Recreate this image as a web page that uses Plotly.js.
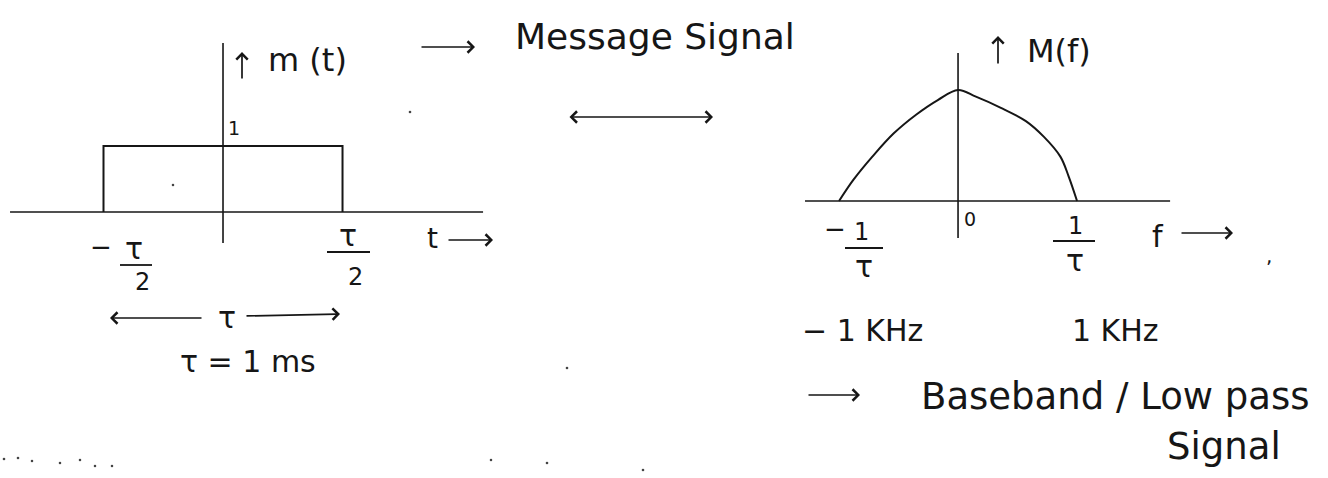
<!DOCTYPE html>
<html>
<head>
<meta charset="utf-8">
<script src="https://cdn.plot.ly/plotly-3.0.1.min.js"></script>
<style>
  html, body { margin: 0; padding: 0; background: #fff; }
  #sketch { width: 1328px; height: 478px; }
</style>
</head>
<body>
<div id="sketch"></div>
<script>
// message signal: rectangular pulse, t in units of tau
var tPulse = [-0.5, -0.5, 0.5, 0.5];
var mPulse = [0, 1, 1, 0];

// spectrum sketch, f in units of 1/tau (kHz)
var fSpec = [-1, -0.88, -0.72, -0.54, -0.35, -0.17, 0, 0.15, 0.36, 0.57, 0.72, 0.86, 0.93, 1];
var MSpec = [0, 0.19, 0.40, 0.61, 0.78, 0.91, 1, 0.94, 0.84, 0.72, 0.58, 0.40, 0.22, 0];

var W = 1328, H = 478;
var INK = '#161616';
var FONT = 'DejaVu Sans, sans-serif';

function txt(s, x, y, size, anchor) {
  return {
    text: s, xref: 'paper', yref: 'paper', x: x / W, y: 1 - y / H,
    xanchor: anchor || 'center', yanchor: 'middle', showarrow: false,
    font: {family: FONT, size: size, color: INK}
  };
}

function arr(x0, y0, x1, y1, both) {
  return {
    text: '', xref: 'paper', yref: 'paper', x: x1 / W, y: 1 - y1 / H,
    ax: x0 - x1, ay: y0 - y1, showarrow: true,
    arrowhead: 4, arrowsize: 1.3, arrowwidth: 1.7, arrowcolor: INK,
    startarrowhead: 4, startarrowsize: 1.3,
    arrowside: both ? 'end+start' : 'end', standoff: 0, startstandoff: 0
  };
}

function bar(x0, x1, y) {
  return {type: 'line', xref: 'paper', yref: 'paper',
    x0: x0 / W, x1: x1 / W, y0: 1 - y / H, y1: 1 - y / H,
    line: {color: INK, width: 1.8}};
}

function speck(x, y) {
  return {type: 'circle', xref: 'paper', yref: 'paper',
    x0: (x - 1.3) / W, x1: (x + 1.3) / W, y0: 1 - (y + 1.3) / H, y1: 1 - (y - 1.3) / H,
    fillcolor: '#444', line: {width: 0}};
}

var traces = [
  {x: tPulse, y: mPulse, xaxis: 'x', yaxis: 'y', type: 'scatter', mode: 'lines',
   line: {color: INK, width: 2}, hoverinfo: 'skip'},
  {x: fSpec, y: MSpec, xaxis: 'x2', yaxis: 'y2', type: 'scatter', mode: 'lines',
   line: {color: INK, width: 2, shape: 'spline', smoothing: 1}, hoverinfo: 'skip'}
];

var shapes = [
  // left axes
  {type: 'line', xref: 'x', yref: 'y', x0: -0.891, x1: 1.088, y0: 0, y1: 0, line: {color: INK, width: 1.6}},
  {type: 'line', xref: 'x', yref: 'y', x0: 0, x1: 0, y0: -0.47, y1: 2.56, line: {color: INK, width: 1.6}},
  // right axes
  {type: 'line', xref: 'x2', yref: 'y2', x0: -1.286, x1: 1.782, y0: 0, y1: 0, line: {color: INK, width: 1.6}},
  {type: 'line', xref: 'x2', yref: 'y2', x0: 0, x1: 0, y0: -0.333, y1: 1.333, line: {color: INK, width: 1.6}},
  // fraction bars
  bar(120, 152, 265), bar(327, 370, 252),
  bar(845, 883, 248), bar(1053, 1095, 241)
];

[[4, 459], [18, 458], [32, 461], [60, 463], [80, 460], [95, 466], [112, 466],
 [410, 112], [173, 185], [491, 460], [547, 463], [643, 470], [567, 368]].forEach(function (p) {
  shapes.push(speck(p[0], p[1]));
});

var annotations = [
  arr(420, 47, 475, 47),
  txt('Message Signal', 513, 37, 36, 'left'),
  arr(568, 117, 713, 117, true),
  // left panel labels
  arr(242, 80, 242, 52),
  txt('m (t)', 266, 60, 32, 'left'),
  txt('1', 234, 128, 19),
  txt('\u2212', 101, 247, 26),
  txt('\u03c4', 134, 248, 30),
  txt('2', 142, 282, 24),
  txt('\u03c4', 348, 235, 30),
  txt('2', 355, 277, 24),
  txt('t', 432, 238, 28),
  arr(447, 240, 493, 240),
  arr(203, 318, 110, 318),
  txt('\u03c4', 227, 317, 30),
  arr(245, 316, 340, 314),
  txt('\u03c4 = 1 ms', 248, 361, 30),
  // right panel labels
  arr(998, 65, 998, 36),
  txt('M(f)', 1025, 51, 32, 'left'),
  txt('0', 970, 219, 19),
  txt('\u2212', 835, 229, 26),
  txt('1', 861, 232, 24),
  txt('\u03c4', 864, 266, 30),
  txt('1', 1075, 226, 24),
  txt('\u03c4', 1075, 260, 30),
  txt('f', 1158, 236, 30),
  arr(1180, 233, 1233, 233),
  txt(',', 1269, 256, 20),
  txt('\u2212 1 KHz', 800, 330, 30, 'left'),
  txt('1 KHz', 1070, 330, 30, 'left'),
  arr(807, 395, 860, 395),
  txt('Baseband / Low pass', 919, 396, 37, 'left'),
  txt('Signal', 1224, 446, 37)
];

var layout = {
  width: W, height: H,
  margin: {l: 0, r: 0, t: 0, b: 0},
  paper_bgcolor: '#fff', plot_bgcolor: 'rgba(0,0,0,0)',
  showlegend: false,
  xaxis: {domain: [0, 0.5], range: [-0.933, 1.845], visible: false, fixedrange: true},
  yaxis: {domain: [0, 1], range: [-4.030, 3.212], visible: false, fixedrange: true, anchor: 'x'},
  xaxis2: {domain: [0.5, 1], range: [-2.471, 3.109], visible: false, fixedrange: true, anchor: 'y2'},
  yaxis2: {domain: [0, 1], range: [-2.495, 1.811], visible: false, fixedrange: true, anchor: 'x2'},
  shapes: shapes,
  annotations: annotations
};

Plotly.newPlot('sketch', traces, layout, {staticPlot: true, displayModeBar: false});
</script>
</body>
</html>
